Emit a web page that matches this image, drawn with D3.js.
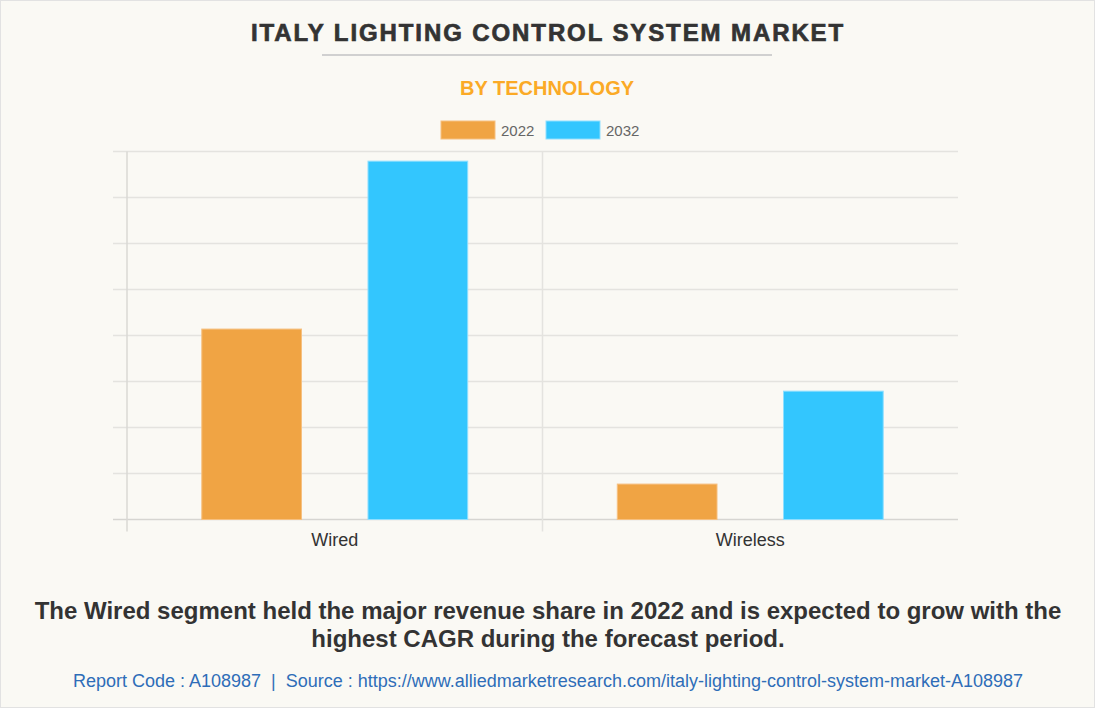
<!DOCTYPE html>
<html>
<head>
<meta charset="utf-8">
<script src="https://cdn.jsdelivr.net/npm/d3@7/dist/d3.min.js"></script>
<style>
  html, body { margin: 0; padding: 0; background: #FAF9F4; }
  svg { display: block; }
  text { font-family: "Liberation Sans", Arial, sans-serif; }
</style>
</head>
<body>
<svg id="chart" width="1095" height="708"></svg>
<script>
const categories = ["Wired", "Wireless"];
const seriesNames = ["2022", "2032"];
const values2022 = [4.14, 0.77];
const values2032 = [7.79, 2.79];
const colors = ["#F0A444", "#33C6FE"];
const yTicks = [0, 1, 2, 3, 4, 5, 6, 7, 8];
const titleText = "ITALY LIGHTING CONTROL SYSTEM MARKET";
const subtitleText = "BY TECHNOLOGY";
const noteLines = [
  "The Wired segment held the major revenue share in 2022 and is expected to grow with the",
  "highest CAGR during the forecast period."
];
const footerText = "Report Code : A108987  |  Source : https://www.alliedmarketresearch.com/italy-lighting-control-system-market-A108987";

const W = 1095, H = 708;
const svg = d3.select("#chart");

// background + border
svg.append("rect").attr("x", 0.5).attr("y", 0.5).attr("width", W - 1).attr("height", H - 1)
  .attr("fill", "#FAF9F4").attr("stroke", "#E2E2E2").attr("stroke-width", 1);

// title
svg.append("text").attr("x", 548).attr("y", 41).attr("text-anchor", "middle")
  .attr("font-size", 24).attr("font-weight", "bold").attr("fill", "#333333")
  .attr("stroke", "#333333").attr("stroke-width", 0.7)
  .attr("letter-spacing", 1.9)
  .text(titleText);
svg.append("line").attr("x1", 322).attr("x2", 772).attr("y1", 55).attr("y2", 55)
  .attr("stroke", "#D0D0D0").attr("stroke-width", 2);

svg.append("text").attr("x", 547).attr("y", 95).attr("text-anchor", "middle")
  .attr("font-size", 20).attr("font-weight", "bold").attr("fill", "#FBAA26")
  .text(subtitleText);

// scales
const plot = { left: 127, right: 958, top: 151.5, bottom: 519.5 };
const x0 = d3.scaleBand().domain(categories).range([plot.left, plot.right]).padding(0);
const y = d3.scaleLinear().domain([0, 8]).range([plot.bottom, plot.top]);

// Chart.js style: each slot = 0.8*band/2, bar = 0.6 slot
const slotW = x0.bandwidth() * 0.8 / seriesNames.length;
const barW = slotW * 0.6;
function barX(cat, si) {
  return x0(cat) + x0.bandwidth() * 0.1 + slotW * si + (slotW - barW) / 2;
}

// grid
const grid = svg.append("g");
yTicks.forEach(t => {
  grid.append("line").attr("x1", plot.left - 14).attr("x2", plot.right)
    .attr("y1", y(t)).attr("y2", y(t))
    .attr("stroke", t === 0 ? "#D6D5D1" : "#E4E3DF").attr("stroke-width", 1.5);
});
// vertical category boundaries
const vlines = [plot.left, x0("Wireless")];
vlines.forEach((vx, i) => {
  grid.append("line").attr("x1", vx).attr("x2", vx)
    .attr("y1", plot.top).attr("y2", plot.bottom + 12)
    .attr("stroke", i === 0 ? "#DAD9D5" : "#E4E3DF").attr("stroke-width", 1.5);
});

// bars
const data = [];
categories.forEach((c, ci) => {
  data.push({ cat: c, si: 0, v: values2022[ci] });
  data.push({ cat: c, si: 1, v: values2032[ci] });
});
svg.append("g").selectAll("rect").data(data).join("rect")
  .attr("x", d => barX(d.cat, d.si))
  .attr("width", barW)
  .attr("y", d => y(d.v))
  .attr("height", d => y(0) - y(d.v))
  .attr("fill", d => colors[d.si])
  .attr("stroke", d => d.si === 0 ? "#F6C080" : "#8FDFFF")
  .attr("stroke-width", 1);

// x labels
svg.append("g").selectAll("text").data(categories).join("text")
  .attr("x", d => x0(d) + x0.bandwidth() / 2)
  .attr("y", 546)
  .attr("text-anchor", "middle")
  .attr("font-size", 18).attr("fill", "#333333")
  .text(d => d);

// legend
const legend = svg.append("g");
const legX = [441, 546];
seriesNames.forEach((s, i) => {
  legend.append("rect").attr("x", legX[i]).attr("y", 121).attr("width", 54).attr("height", 18)
    .attr("fill", colors[i]).attr("stroke", i === 0 ? "#F6C080" : "#8FDFFF").attr("stroke-width", 1);
  legend.append("text").attr("x", legX[i] + 60).attr("y", 135.5)
    .attr("font-size", 15).attr("fill", "#666666").text(s);
});

// note
noteLines.forEach((l, i) => {
  svg.append("text").attr("x", 548).attr("y", 618.5 + i * 28).attr("text-anchor", "middle")
    .attr("font-size", 24).attr("font-weight", "bold").attr("fill", "#333333")
    .text(l);
});

// footer
svg.append("text").attr("x", 548).attr("y", 687).attr("text-anchor", "middle")
  .attr("font-size", 18).attr("fill", "#2E6DB8")
  .attr("xml:space", "preserve")
  .style("white-space", "pre")
  .text(footerText);
</script>
</body>
</html>
